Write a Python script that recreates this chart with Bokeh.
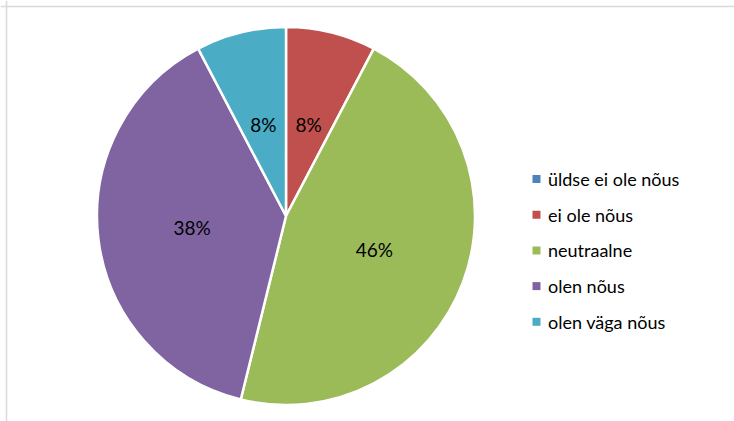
import numpy as np
from bokeh.plotting import figure
from bokeh.models import Range1d, Span, ColumnDataSource
from bokeh.core.properties import value
from bokeh.embed import file_html
from bokeh.resources import INLINE

categories = ["üldse ei ole nõus", "ei ole nõus", "neutraalne", "olen nõus", "olen väga nõus"]
counts = [0, 1, 6, 5, 1]
colors = ["#4F81BD", "#C0504D", "#9BBB59", "#8064A2", "#4BACC6"]

W, H = 734, 421
p = figure(width=W, height=H, output_backend="svg", toolbar_location=None,
           x_range=Range1d(0, W), y_range=Range1d(0, H), min_border=0,
           outline_line_color=None)
p.axis.visible = False
p.grid.visible = False
p.background_fill_color = "white"

# frame lines (top and left visible)
p.add_layout(Span(location=H - 6, dimension="width", line_color="#d9d9d9", line_width=1.5))
p.add_layout(Span(location=6, dimension="height", line_color="#d9d9d9", line_width=1.5))

cx, cy, r = 285.5, H - 215.5, 189
total = sum(counts)
fr = np.array(counts) / total
cum = np.concatenate([[0], np.cumsum(fr)])
# clockwise from 12 o'clock
start = np.pi / 2 - cum[1:] * 2 * np.pi
end = np.pi / 2 - cum[:-1] * 2 * np.pi

src = ColumnDataSource(dict(start=start, end=end, color=colors))
p.wedge(x=cx, y=cy, radius=r, start_angle="start", end_angle="end",
        fill_color="color", line_color="white", line_width=2.5, source=src)

# labels
mid = np.pi / 2 - (cum[:-1] + fr / 2) * 2 * np.pi
lx, ly, lt = [], [], []
for i, f in enumerate(fr):
    if counts[i] == 0:
        continue
    rr = r * 0.5
    lx.append(cx + rr * np.cos(mid[i]))
    ly.append(cy + rr * np.sin(mid[i]))
    lt.append(f"{round(f * 100):.0f}%")
p.text(x=lx, y=ly, text=lt, text_font=value("Lato"), text_font_size="19px",
       text_color="#000000", text_align="center", text_baseline="middle")

# legend (manual)
ys = [H - 178.5 - i * 35.7 for i in range(len(categories))]
p.scatter(x=[536] * len(categories), y=ys, marker="square", size=8,
          fill_color=colors, line_color=None)
p.text(x=[547.5] * len(categories), y=ys, text=categories, text_font=value("Lato"),
       text_font_size="18px", text_color="#000000", text_baseline="middle")

open("out.html", "w").write(file_html(p, INLINE))
